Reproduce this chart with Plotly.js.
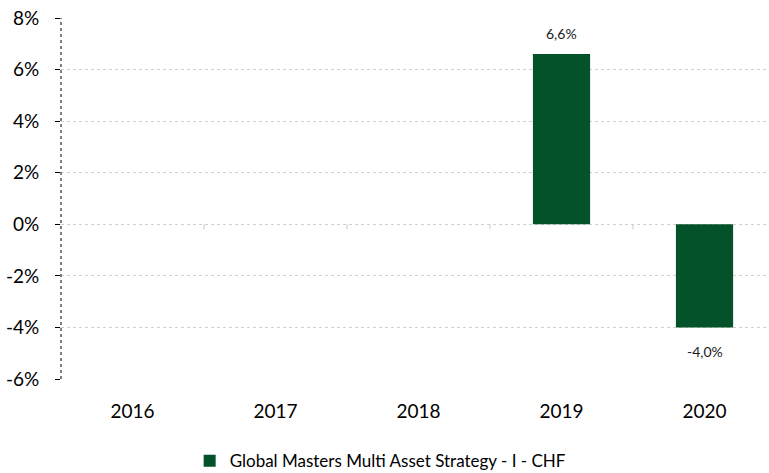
<!DOCTYPE html>
<html><head><meta charset="utf-8">
<script src="https://cdn.plot.ly/plotly-3.0.1.min.js"></script>
<style>html,body{margin:0;padding:0;background:#fff}#c{width:769px;height:473px}#e{position:absolute;top:0;left:100px;color:red;font:12px sans-serif}</style>
</head><body><div id="c"></div><div id="e"></div>
<script>
const years = ['2016','2017','2018','2019','2020'];
const returns = [null, null, null, 6.6, -4.0];
const seriesName = 'Global Masters Multi Asset Strategy - I - CHF';
const yTicks = [-6,-4,-2,0,2,4,6,8];
const yTickText = yTicks.map(v => v + '%');

const fmt = v => v.toFixed(1).replace('.', ',') + '%';
const annotations = [];
years.forEach((y, i) => {
  const v = returns[i];
  if (v === null) return;
  annotations.push({xref:'x', yref:'y', x: i, y: v, text: fmt(v), showarrow: false,
    yshift: v >= 0 ? 21 : -24, font: {family: 'Lato', size: 14, color: '#1a1a1a'}});
});
const shapes = [
  {type:'line', xref:'paper', yref:'paper', x0:0, x1:0, y0:0, y1:1, line:{color:'#000', width:1, dash:'dot'}}
];
for (let i = 0; i < years.length - 1; i++) {
  shapes.push({type:'line', xref:'x', yref:'y', x0:i+0.5, x1:i+0.5, y0:0, y1:-0.2, line:{color:'#c8c8c8', width:1}});
}
try {
Plotly.newPlot('c', [{
  type:'bar', x: years, y: returns, name: seriesName, width: 0.4,
  marker:{color:'#03522A'}, showlegend:true, hoverinfo:'none'
}], {
  width:769, height:473,
  margin:{l:61, r:0, t:18, b:94},
  paper_bgcolor:'#fff', plot_bgcolor:'#fff',
  font:{family:'Lato', color:'#000'},
  xaxis:{type:'category', range:[-0.5, 4.451], showgrid:false, zeroline:false, showline:false,
    ticks:'', tickfont:{size:19, color:'#000'}, ticklabelstandoff:19, fixedrange:true},
  yaxis:{range:[-6,8], tickmode:'array', tickvals:yTicks, ticktext:yTickText, showgrid:true, gridcolor:'#d0d0d0', griddash:'dot',
    zeroline:false, showline:false, ticks:'outside', ticklen:5, tickcolor:'#000',
    tickfont:{size:19, color:'#000'}, ticklabelstandoff:12, fixedrange:true},
  legend:{orientation:'h', x:0.495, xanchor:'center', xref:'container', yref:'container', y:0.025, yanchor:'middle',
    font:{size:17, color:'#000'}, itemwidth:30},
  annotations: annotations, shapes: shapes,
  bargap:0.6
}, {staticPlot:true}).catch(err => { document.getElementById('e').textContent = String(err); });
} catch (err) { document.getElementById('e').textContent = String(err); }
</script></body></html>
